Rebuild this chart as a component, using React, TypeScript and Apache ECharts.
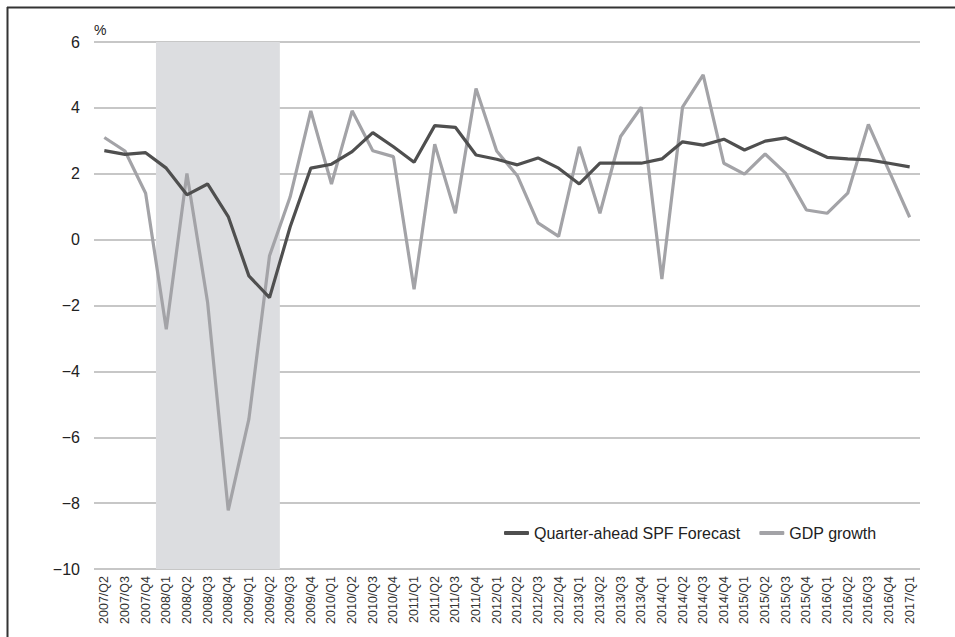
import React, { useEffect, useRef } from "react";
import * as echarts from "echarts";

const categories: string[] = [
  "2007/Q2", "2007/Q3", "2007/Q4",
  "2008/Q1", "2008/Q2", "2008/Q3", "2008/Q4",
  "2009/Q1", "2009/Q2", "2009/Q3", "2009/Q4",
  "2010/Q1", "2010/Q2", "2010/Q3", "2010/Q4",
  "2011/Q1", "2011/Q2", "2011/Q3", "2011/Q4",
  "2012/Q1", "2012/Q2", "2012/Q3", "2012/Q4",
  "2013/Q1", "2013/Q2", "2013/Q3", "2013/Q4",
  "2014/Q1", "2014/Q2", "2014/Q3", "2014/Q4",
  "2015/Q1", "2015/Q2", "2015/Q3", "2015/Q4",
  "2016/Q1", "2016/Q2", "2016/Q3", "2016/Q4",
  "2017/Q1",
];

const spfForecast: number[] = [
  2.7, 2.59, 2.64,
  2.17, 1.36, 1.69, 0.7,
  -1.1, -1.76, 0.39, 2.17,
  2.29, 2.67, 3.25, 2.82,
  2.35, 3.46, 3.41, 2.57,
  2.44, 2.27, 2.48, 2.17,
  1.69, 2.32, 2.32, 2.32,
  2.45, 2.97, 2.87, 3.05,
  2.72, 2.99, 3.09, 2.79,
  2.5, 2.45, 2.42, 2.32,
  2.21,
];

const gdpGrowth: number[] = [
  3.1, 2.69, 1.41,
  -2.72, 2.01, -1.9, -8.22,
  -5.45, -0.49, 1.3, 3.91,
  1.69, 3.91, 2.7, 2.52,
  -1.51, 2.9, 0.8, 4.59,
  2.69, 1.94, 0.51, 0.1,
  2.82, 0.8, 3.13, 4.02,
  -1.2, 4.02, 5.0, 2.32,
  1.99, 2.6, 2.01, 0.9,
  0.8, 1.41, 3.5, 2.09,
  0.68,
];

const recessionStart = "2008/Q1";
const recessionEnd = "2009/Q2";

const yMin = -10;
const yMax = 6;
const yInterval = 2;

export default function App() {
  const ref = useRef<HTMLDivElement>(null);

  useEffect(() => {
    document.body.style.margin = "0";
    if (!ref.current) return;
    const chart = echarts.init(ref.current, null, { renderer: "svg" });
    const startIdx = categories.indexOf(recessionStart);
    const endIdx = categories.indexOf(recessionEnd) + 1;
    const font = "Liberation Sans, Arial, sans-serif";

    chart.setOption({
      animation: false,
      backgroundColor: "#ffffff",
      textStyle: { fontFamily: font },
      grid: { left: 94, right: 35, top: 42, bottom: 68, containLabel: false },
      legend: {
        data: ["Quarter-ahead SPF Forecast", "GDP growth"],
        left: 499,
        top: 520,
        icon: "roundRect",
        itemWidth: 25,
        itemHeight: 4,
        itemGap: 19,
        textStyle: { fontSize: 16, color: "#222222", fontFamily: font },
      },
      xAxis: [
        {
          type: "category",
          data: categories,
          boundaryGap: true,
          axisLine: { show: false },
          axisTick: { show: false },
          axisLabel: {
            rotate: 90,
            interval: 0,
            fontSize: 12.5,
            color: "#333333",
            margin: 7,
            fontFamily: font,
          },
          splitLine: { show: false },
        },
        {
          type: "value",
          min: 0,
          max: categories.length,
          show: false,
          gridIndex: 0,
        },
      ],
      yAxis: {
        type: "value",
        min: yMin,
        max: yMax,
        interval: yInterval,
        name: "%",
        nameLocation: "end",
        nameGap: 5,
        nameTextStyle: {
          fontSize: 14,
          color: "#222222",
          align: "left",
          padding: [0, 0, 0, 0],
          fontFamily: font,
        },
        axisLine: { show: false },
        axisTick: { show: false },
        axisLabel: {
          fontSize: 16,
          color: "#222222",
          margin: 14,
          fontFamily: font,
          formatter: (v: number) => String(v).replace("-", "\u2212"),
        },
        splitLine: { lineStyle: { color: "#b4b4b4", width: 1.5 } },
      },
      series: [
        {
          name: "recession",
          type: "line",
          xAxisIndex: 1,
          yAxisIndex: 0,
          data: [],
          silent: true,
          markArea: {
            silent: true,
            itemStyle: { color: "#dcdde0" },
            data: [[{ xAxis: startIdx, yAxis: yMax }, { xAxis: endIdx, yAxis: yMin }]],
          },
        },
        {
          name: "GDP growth",
          type: "line",
          data: gdpGrowth,
          showSymbol: false,
          symbol: "none",
          itemStyle: { color: "#a3a3a7" },
          lineStyle: { color: "#a3a3a7", width: 3.2 },
          z: 3,
        },
        {
          name: "Quarter-ahead SPF Forecast",
          type: "line",
          data: spfForecast,
          showSymbol: false,
          symbol: "none",
          itemStyle: { color: "#4f4f4f" },
          lineStyle: { color: "#4f4f4f", width: 3.2 },
          z: 4,
        },
      ],
      graphic: [
        {
          type: "line",
          shape: { x1: 7, y1: 7.5, x2: 955, y2: 7.5 },
          style: { stroke: "#333333", lineWidth: 2 },
        },
        {
          type: "line",
          shape: { x1: 7.5, y1: 7, x2: 7.5, y2: 637 },
          style: { stroke: "#333333", lineWidth: 2 },
        },
      ],
    });

    return () => chart.dispose();
  }, []);

  return <div ref={ref} style={{ width: 955, height: 637 }} />;
}
